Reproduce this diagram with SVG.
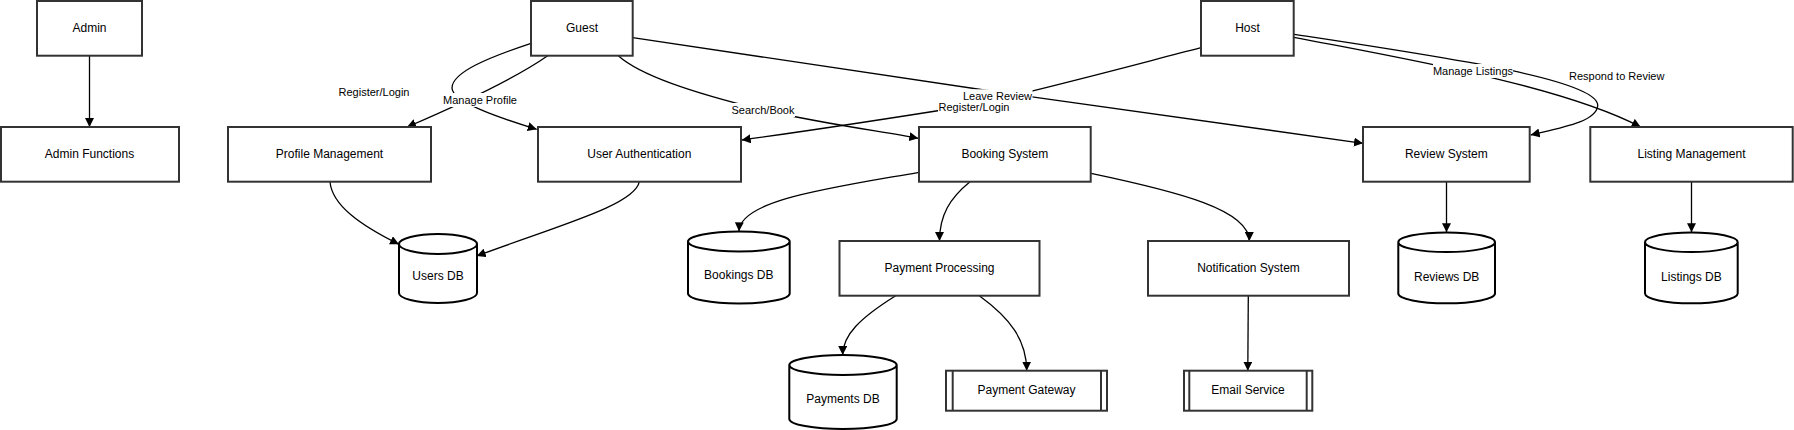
<svg xmlns="http://www.w3.org/2000/svg" width="1794" height="430" viewBox="0 0 1794 430">
<style>
.box{fill:#fff;stroke:#333;stroke-width:2}
.db{fill:#fff;stroke:#000;stroke-width:2}
.t{font-family:"Liberation Sans",Arial,sans-serif;font-size:12px;fill:#000;text-anchor:middle;dominant-baseline:central}
.lt{font-family:"Liberation Sans",Arial,sans-serif;font-size:11px;fill:#000;text-anchor:middle;dominant-baseline:central}
.lb{fill:#fff;stroke:none}
.e{fill:none;stroke:#000;stroke-width:1.3;marker-end:url(#arr)}
</style>
<defs>
<marker id="arr" viewBox="0 0 10 10" refX="10" refY="5" markerWidth="9" markerHeight="9" markerUnits="userSpaceOnUse" orient="auto">
<path d="M0,0 L10,5 L0,10 z" fill="#000"/>
</marker>
</defs>
<rect width="1794" height="430" fill="#fff"/>
<g id="connectors">
<path class="e" d="M89.5,55.7 L89.5,127"/>
<path class="e" d="M547.7,55.7 C520,75 470,100 407,127"/>
<path class="e" d="M531,43.3 C490,57 452,72 452,88 C452,102 500,118 536.7,129.3"/>
<path class="e" d="M618.3,55.7 C640,75 690,92 763,110 C830,125 880,131 918.3,138.3"/>
<path class="e" d="M632.7,37.7 L997.5,92 L1363,143.3"/>
<path class="e" d="M1201,47.7 C1130,66 1060,85 974,105 C880,120 800,132 741.7,140"/>
<path class="e" d="M1293.7,37.3 C1400,58 1560,85 1640.7,127"/>
<path class="e" d="M1293.7,34.3 C1450,58 1600,80 1597.7,106 C1596,122 1560,128 1530.7,135"/>
<path class="e" d="M639.3,181.7 C635,205 560,225 476.7,256"/>
<path class="e" d="M330,181.7 C332,205 360,225 399,244.3"/>
<path class="e" d="M919,172.3 C830,188 740,200 739,231.3"/>
<path class="e" d="M970,181.7 C950,198 939.5,215 939.5,241"/>
<path class="e" d="M1091,173.3 C1180,192 1249.3,210 1249.3,241"/>
<path class="e" d="M895.7,295.7 C860,318 842.7,335 842.7,355"/>
<path class="e" d="M979.3,295.7 C1010,318 1026.7,340 1026.7,370.7"/>
<path class="e" d="M1248.3,295.7 L1247.8,370.7"/>
<path class="e" d="M1446.5,181.7 L1446.5,232.3"/>
<path class="e" d="M1691.5,181.7 L1691.5,232.3"/>
<g id="edge-labels">
<rect class="lb" x="338" y="85.3" width="72" height="14"/><text class="lt" x="374" y="92.3">Register/Login</text>
<rect class="lb" x="442" y="93" width="76" height="14"/><text class="lt" x="480" y="100">Manage Profile</text>
<rect class="lb" x="731" y="103" width="64" height="14"/><text class="lt" x="763" y="110">Search/Book</text>
<rect class="lb" x="962.5" y="89.3" width="70" height="14"/><text class="lt" x="997.5" y="96.3">Leave Review</text>
<rect class="lb" x="938" y="100.8" width="72" height="13"/><text class="lt" x="974" y="107.3">Register/Login</text>
<rect class="lb" x="1433" y="64" width="80" height="14"/><text class="lt" x="1473" y="71">Manage Listings</text>
<rect class="lb" x="1568" y="69.3" width="97" height="14"/><text class="lt" x="1616.7" y="76.3">Respond to Review</text>
</g>
</g>
<g id="admin"><rect class="box" x="37" y="1" width="105" height="54.7"/><text class="t" x="89.5" y="27.5">Admin</text></g>
<g id="guest"><rect class="box" x="531" y="1" width="101.7" height="54.7"/><text class="t" x="582" y="27.5">Guest</text></g>
<g id="host"><rect class="box" x="1201" y="1" width="92.7" height="54.7"/><text class="t" x="1247.5" y="27.5">Host</text></g>
<g id="admin-functions"><rect class="box" x="1" y="127" width="178" height="54.7"/><text class="t" x="89.5" y="154">Admin Functions</text></g>
<g id="profile-management"><rect class="box" x="228" y="127" width="203" height="54.7"/><text class="t" x="329.5" y="154">Profile Management</text></g>
<g id="user-authentication"><rect class="box" x="538" y="127" width="203" height="54.7"/><text class="t" x="639.3" y="154">User Authentication</text></g>
<g id="booking-system"><rect class="box" x="919" y="127" width="171.7" height="54.7"/><text class="t" x="1004.8" y="154">Booking System</text></g>
<g id="review-system"><rect class="box" x="1363" y="127" width="166.7" height="54.7"/><text class="t" x="1446.3" y="154">Review System</text></g>
<g id="listing-management"><rect class="box" x="1590.3" y="127" width="202.4" height="54.7"/><text class="t" x="1691.5" y="154">Listing Management</text></g>
<g id="users-db"><path class="db" d="M399,244 a39,10 0 0,0 78,0 a39,10 0 0,0 -78,0 l0,49 a39,10 0 0,0 78,0 l0,-49"/><text class="t" x="438" y="275.7">Users DB</text></g>
<g id="bookings-db"><path class="db" d="M688,241.5 a50.85,10 0 0,0 101.7,0 a50.85,10 0 0,0 -101.7,0 l0,52 a50.85,10 0 0,0 101.7,0 l0,-52"/><text class="t" x="738.8" y="275">Bookings DB</text></g>
<g id="payment-processing"><rect class="box" x="839.5" y="241" width="200" height="54.7"/><text class="t" x="939.5" y="267.7">Payment Processing</text></g>
<g id="notification-system"><rect class="box" x="1148" y="241" width="201" height="54.7"/><text class="t" x="1248.5" y="267.7">Notification System</text></g>
<g id="reviews-db"><path class="db" d="M1398.3,242.2 a48.35,9.8 0 0,0 96.7,0 a48.35,9.8 0 0,0 -96.7,0 l0,51.3 a48.35,9.8 0 0,0 96.7,0 l0,-51.3"/><text class="t" x="1446.7" y="276.7">Reviews DB</text></g>
<g id="listings-db"><path class="db" d="M1645,242.2 a46.35,9.8 0 0,0 92.7,0 a46.35,9.8 0 0,0 -92.7,0 l0,51.3 a46.35,9.8 0 0,0 92.7,0 l0,-51.3"/><text class="t" x="1691.4" y="276.7">Listings DB</text></g>
<g id="payments-db"><path class="db" d="M789.3,365 a53.7,10 0 0,0 107.4,0 a53.7,10 0 0,0 -107.4,0 l0,54 a53.7,10 0 0,0 107.4,0 l0,-54"/><text class="t" x="843" y="399">Payments DB</text></g>
<g id="payment-gateway"><rect class="box" x="946" y="370.7" width="161" height="40"/><line class="box" x1="952.7" y1="370.7" x2="952.7" y2="410.7"/><line class="box" x1="1101" y1="370.7" x2="1101" y2="410.7"/><text class="t" x="1026.5" y="390">Payment Gateway</text></g>
<g id="email-service"><rect class="box" x="1184" y="370.7" width="128.3" height="40"/><line class="box" x1="1189.3" y1="370.7" x2="1189.3" y2="410.7"/><line class="box" x1="1306.7" y1="370.7" x2="1306.7" y2="410.7"/><text class="t" x="1248" y="390">Email Service</text></g>
</svg>
